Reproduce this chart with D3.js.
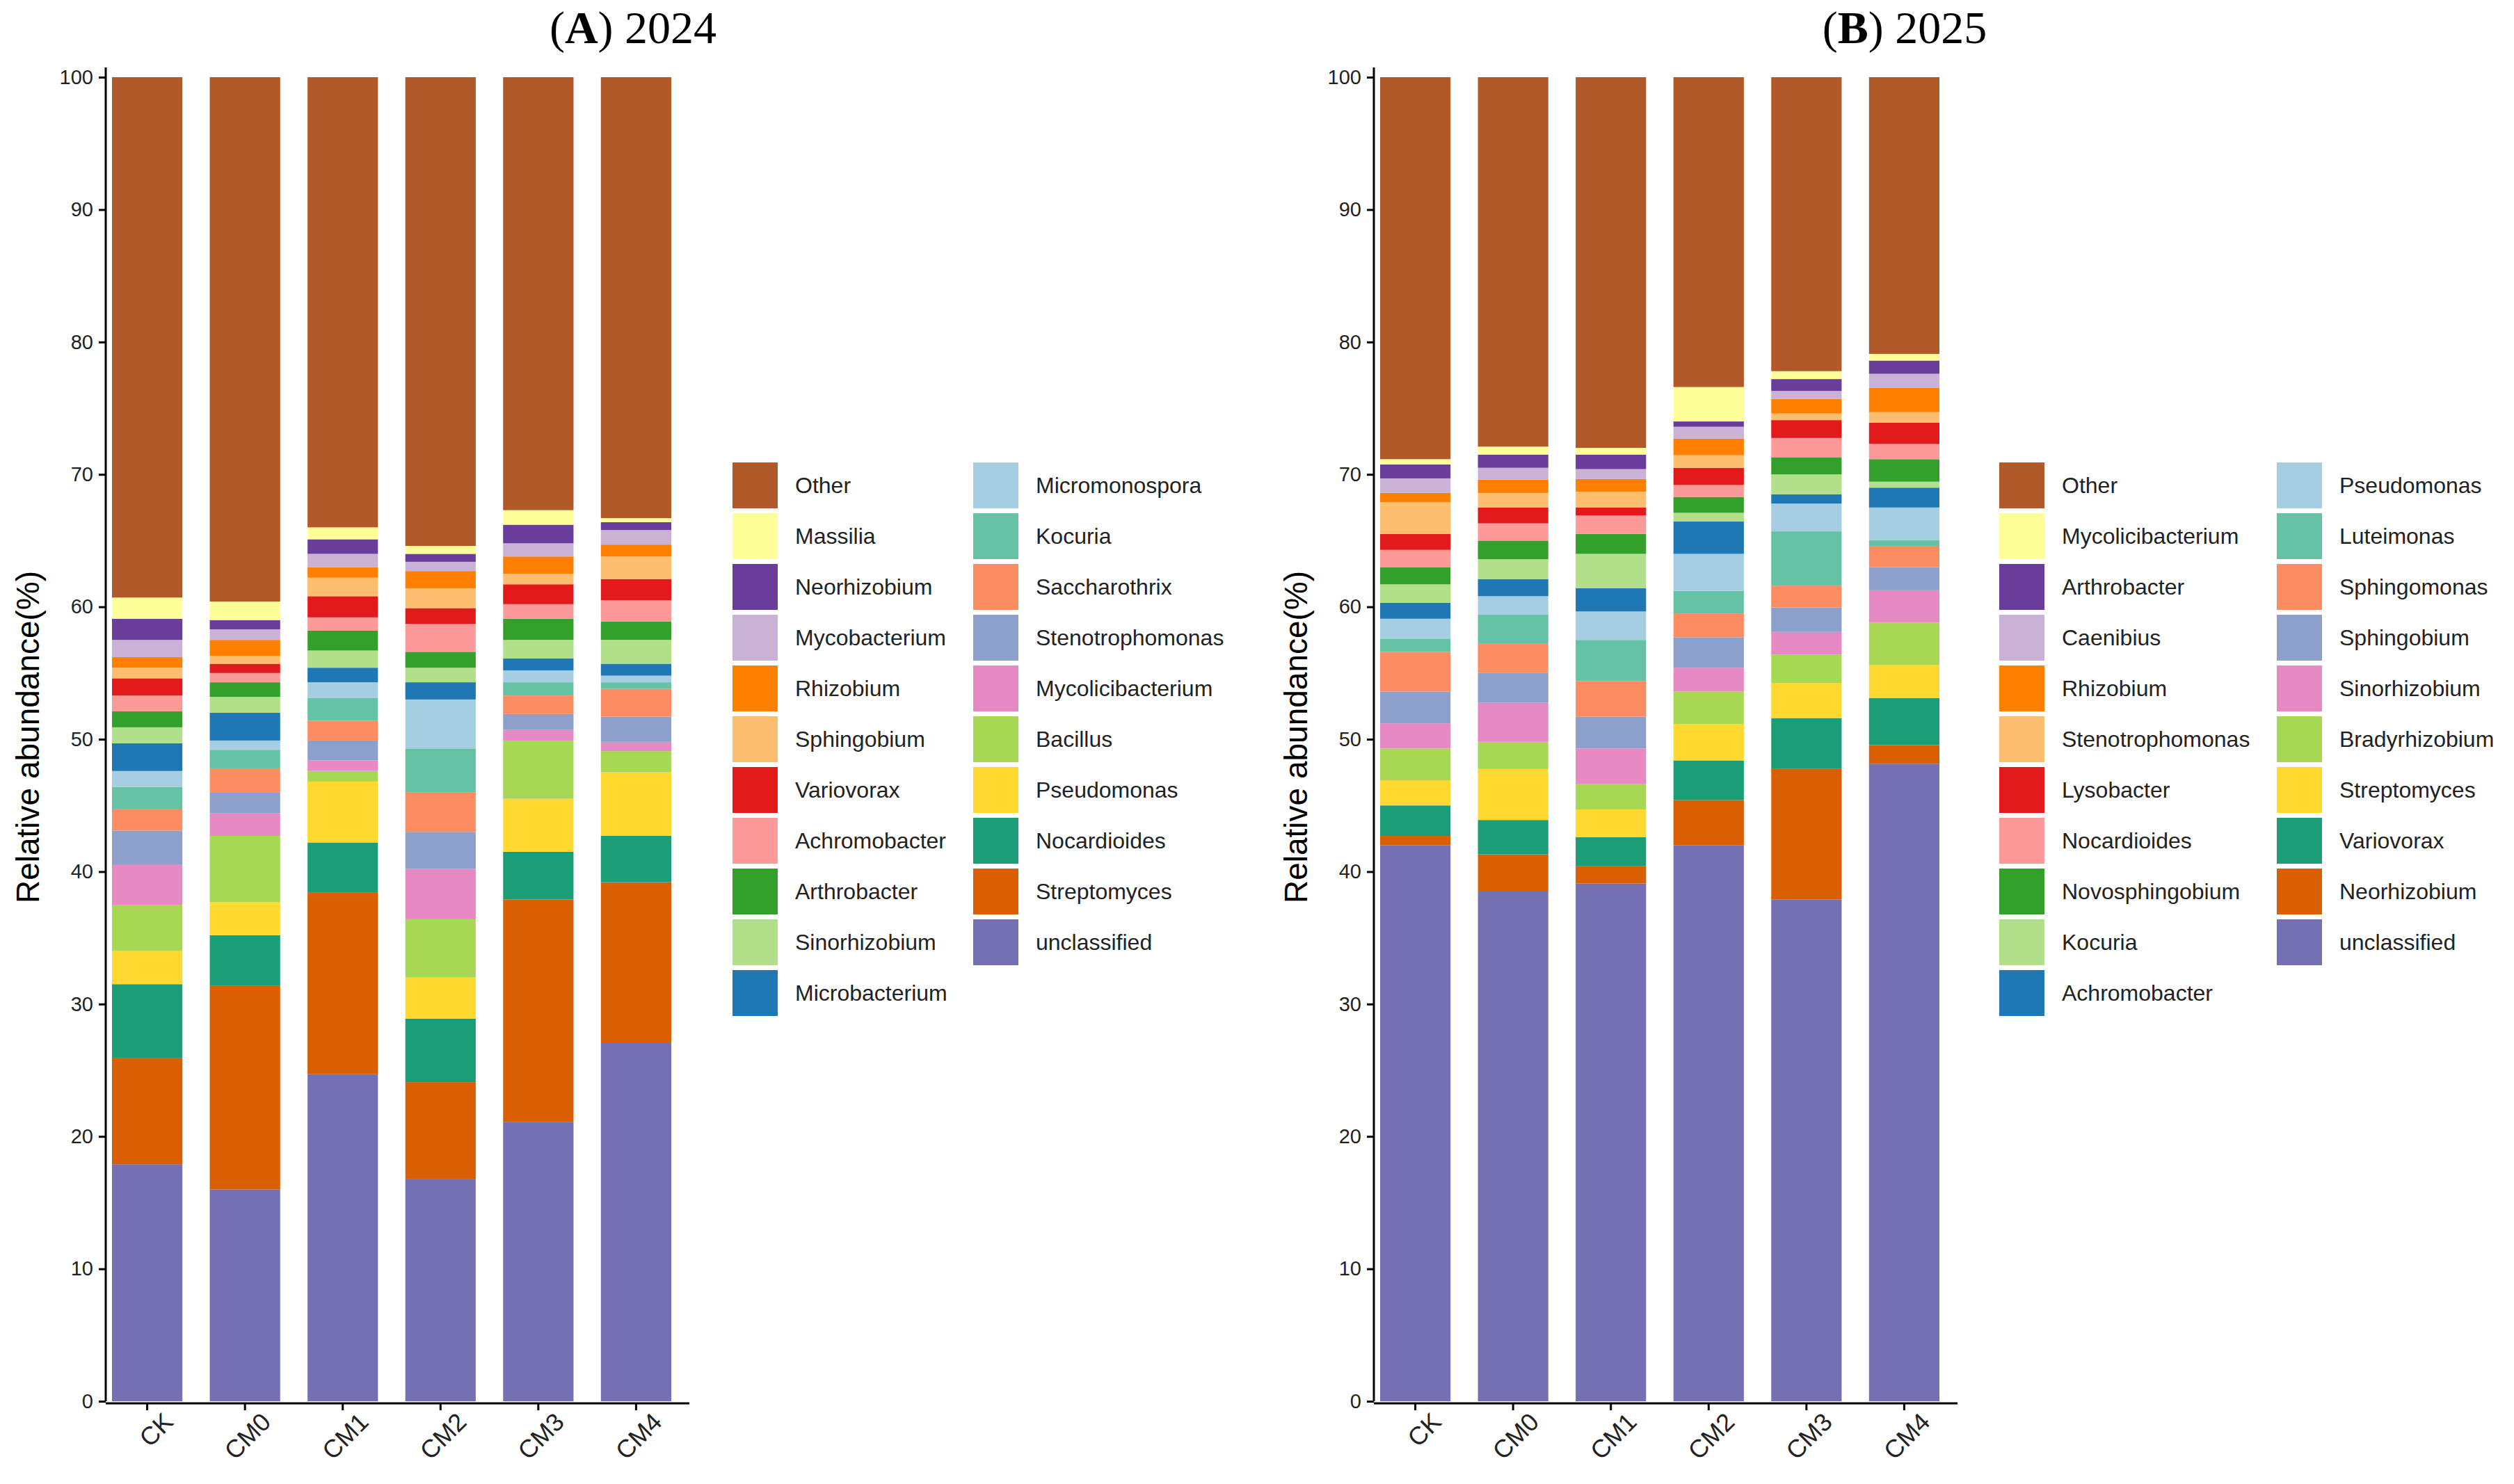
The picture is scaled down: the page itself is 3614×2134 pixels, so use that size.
<!DOCTYPE html>
<meta charset="utf-8">
<title>Relative abundance</title>
<style>
body { margin: 0; background: #fff; }
svg text { font-family: "Liberation Sans", Arial, sans-serif; }
.title { font-family: "Liberation Serif", "Times New Roman", serif !important; }
</style>
<body>
<svg id="chart" width="3614" height="2134"></svg>
<script src="https://cdn.jsdelivr.net/npm/d3@7"></script>
<script>

var palette = ["#B15928","#FFFF99","#6A3D9A","#CAB2D6","#FF7F00","#FDBF6F","#E31A1C","#FB9A99","#33A02C","#B2DF8A","#1F78B4",
               "#A6CEE3","#66C2A5","#FC8D62","#8DA0CB","#E78AC3","#A6D854","#FFD92F","#1B9E77","#D95F02","#7570B3"];

var samples = ["CK","CM0","CM1","CM2","CM3","CM4"];

// legend order (top of stack first)
var taxaA = ["Other","Massilia","Neorhizobium","Mycobacterium","Rhizobium","Sphingobium","Variovorax","Achromobacter",
             "Arthrobacter","Sinorhizobium","Microbacterium","Micromonospora","Kocuria","Saccharothrix","Stenotrophomonas",
             "Mycolicibacterium","Bacillus","Pseudomonas","Nocardioides","Streptomyces","unclassified"];
var taxaB = ["Other","Mycolicibacterium","Arthrobacter","Caenibius","Rhizobium","Stenotrophomonas","Lysobacter","Nocardioides",
             "Novosphingobium","Kocuria","Achromobacter","Pseudomonas","Luteimonas","Sphingomonas","Sphingobium",
             "Sinorhizobium","Bradyrhizobium","Streptomyces","Variovorax","Neorhizobium","unclassified"];

// lower edge of each layer (same order as taxa)
var edgesA = {
  CK:  [60.7,59.1,57.5,56.2,55.4,54.6,53.3,52.1,50.9,49.7,47.6,46.4,44.7,43.1,40.5,37.5,34.0,31.5,25.9,17.9,0],
  CM0: [60.4,59.0,58.3,57.5,56.3,55.7,55.0,54.3,53.2,52.0,49.9,49.2,47.8,46.0,44.4,42.7,37.7,35.2,31.4,16.0,0],
  CM1: [66.0,65.1,64.0,63.0,62.2,60.8,59.2,58.2,56.7,55.4,54.3,53.1,51.4,49.9,48.4,47.6,46.8,42.2,38.4,24.7,0],
  CM2: [64.6,64.0,63.4,62.7,61.4,59.9,58.7,56.6,55.4,54.3,53.0,49.3,46.0,43.0,40.2,36.4,32.0,28.9,24.1,16.8,0],
  CM3: [67.3,66.2,64.8,63.8,62.5,61.7,60.2,59.1,57.5,56.1,55.2,54.3,53.3,51.9,50.7,49.9,45.5,41.5,37.9,21.1,0],
  CM4: [66.7,66.4,65.8,64.7,63.8,62.1,60.5,58.9,57.5,55.7,54.8,54.3,53.8,51.7,49.8,49.1,47.5,42.7,39.2,27.1,0]
};
var edgesB = {
  CK:  [71.15,70.75,69.7,68.6,67.9,65.5,64.3,63.0,61.7,60.3,59.1,57.6,56.6,53.6,51.2,49.3,46.9,45.0,42.7,42.0,0],
  CM0: [72.1,71.5,70.5,69.6,68.6,67.5,66.3,65.0,63.6,62.1,60.8,59.4,57.2,55.0,52.75,49.8,47.75,43.9,41.3,38.5,0],
  CM1: [72.0,71.5,70.4,69.65,68.7,67.5,66.9,65.5,64.0,61.4,59.65,57.5,54.4,51.7,49.3,46.6,44.7,42.6,40.4,39.1,0],
  CM2: [76.6,74.0,73.6,72.7,71.45,70.5,69.2,68.3,67.1,66.45,64.0,61.2,59.5,57.7,55.4,53.6,51.15,48.4,45.4,42.0,0],
  CM3: [77.8,77.2,76.3,75.7,74.6,74.1,72.75,71.3,70.0,68.5,67.8,65.7,61.6,59.95,58.1,56.4,54.25,51.6,47.75,37.9,0],
  CM4: [79.1,78.6,77.6,76.55,74.7,73.9,72.3,71.15,69.45,69.0,67.5,65.05,64.6,63.0,61.25,58.8,55.6,53.1,49.55,48.15,0]
};

function toRows(taxa, edges) {
  return samples.map(function(s) {
    var row = {sample: s}, e = edges[s];
    taxa.forEach(function(t, i) {
      var top = i == 0 ? 100 : e[i - 1];
      row[t] = +(top - e[i]).toFixed(2);
    });
    return row;
  });
}

var svg = d3.select("#chart");

function panel(opt) {
  var rows = toRows(opt.taxa, opt.edges);
  var color = d3.scaleOrdinal().domain(opt.taxa).range(palette);
  var x = d3.scaleBand().domain(samples).range([opt.x0, opt.x0 + 804]).paddingInner(0.28).paddingOuter(0);
  var y = d3.scaleLinear().domain([0, 100]).range([2015, 111]);
  var stack = d3.stack().keys(opt.taxa.slice().reverse())(rows);

  var g = svg.append("g");
  g.selectAll("g.layer").data(stack).join("g")
      .attr("fill", function(d) { return color(d.key); })
    .selectAll("rect").data(function(d) { return d; }).join("rect")
      .attr("x", function(d) { return x(d.data.sample); })
      .attr("width", x.bandwidth())
      .attr("y", function(d) { return y(d[1]); })
      .attr("height", function(d) { return y(d[0]) - y(d[1]); });

  var ya = g.append("g").attr("transform", "translate(" + (opt.x0 - 9) + ",0)")
      .call(d3.axisLeft(y).tickValues(d3.range(0, 101, 10)).tickSize(10).tickPadding(8));
  ya.select(".domain").attr("d", "M0,2015V97").attr("stroke-width", 3);
  ya.selectAll(".tick line").attr("stroke-width", 3);
  ya.selectAll("text").attr("font-size", 29).attr("fill", "#222");

  var xa = g.append("g").attr("transform", "translate(0,2018)")
      .call(d3.axisBottom(x).tickSize(10).tickPadding(6));
  xa.select(".domain").attr("d", "M" + (opt.x0 - 9) + ",0H" + (opt.x0 + 830)).attr("stroke-width", 3);
  xa.selectAll(".tick line").attr("stroke-width", 3);
  xa.selectAll("text").attr("font-size", 36).attr("fill", "#222")
      .attr("text-anchor", "end").attr("dx", "0.2em").attr("dy", "0.9em")
      .attr("transform", "rotate(-45)");

  g.append("text").attr("transform", "translate(" + (opt.x0 - 105) + ",1060) rotate(-90)")
      .attr("text-anchor", "middle").attr("font-size", 46).text("Relative abundance(%)");

  var t = g.append("text").attr("class", "title").attr("x", opt.titleX).attr("y", 62)
      .attr("text-anchor", "middle").attr("font-size", 66);
  t.append("tspan").text("(");
  t.append("tspan").attr("font-weight", "bold").text(opt.letter);
  t.append("tspan").text(") " + opt.year);

  var leg = g.append("g").selectAll("g").data(opt.taxa).join("g")
      .attr("transform", function(d, i) {
        var col = i < 11 ? 0 : 1, r = i < 11 ? i : i - 11;
        return "translate(" + (opt.legX[col]) + "," + (665 + r * 73) + ")";
      });
  leg.append("rect").attr("width", 65).attr("height", 66).attr("fill", function(d) { return color(d); });
  leg.append("text").attr("x", 90).attr("y", 33).attr("dy", "0.35em").attr("font-size", 32).attr("fill", "#222")
      .text(function(d) { return d; });
}

panel({taxa: taxaA, edges: edgesA, x0: 161, titleX: 910, letter: "A", year: "2024", legX: [1053, 1399]});
panel({taxa: taxaB, edges: edgesB, x0: 1984, titleX: 2738, letter: "B", year: "2025", legX: [2874, 3273]});

</script>
</body>
